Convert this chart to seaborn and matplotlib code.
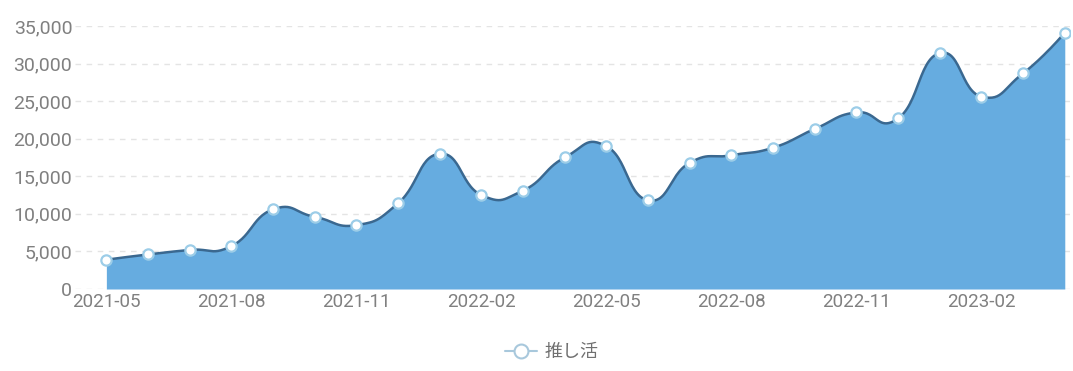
import numpy as np
import pandas as pd
import seaborn as sns
import matplotlib.pyplot as plt
from matplotlib.lines import Line2D

# Monthly values
months = ['2021-05', '2021-06', '2021-07', '2021-08', '2021-09', '2021-10',
          '2021-11', '2021-12', '2022-01', '2022-02', '2022-03', '2022-04',
          '2022-05', '2022-06', '2022-07', '2022-08', '2022-09', '2022-10',
          '2022-11', '2022-12', '2023-01', '2023-02', '2023-03', '2023-04']
values = [3900, 4600, 5200, 5700, 10600, 9600, 8500, 11400, 18000, 12500,
          13100, 17500, 19000, 11800, 16800, 17800, 18800, 21300, 23500,
          22700, 31400, 25600, 28700, 34100]
series_name = '推し活'

df = pd.DataFrame({'month': months, 'value': values})
df['idx'] = np.arange(len(df))


def smooth_curve(x, y, k=0.25, n=30):
    # bezier smoothing through the points (like a "smooth" line chart)
    x = np.asarray(x, float)
    y = np.asarray(y, float)
    px, py = [], []
    for i in range(len(x) - 1):
        p0 = np.array([x[i], y[i]])
        p3 = np.array([x[i + 1], y[i + 1]])
        prev = np.array([x[i - 1], y[i - 1]]) if i > 0 else p0
        nxt = np.array([x[i + 2], y[i + 2]]) if i + 2 < len(x) else p3
        c1 = p0 + k * (p3 - prev) if i > 0 else p0
        c2 = p3 - k * (nxt - p0) if i + 2 < len(x) else p3
        t = np.linspace(0, 1, n)[:, None]
        pts = ((1 - t) ** 3 * p0 + 3 * (1 - t) ** 2 * t * c1
               + 3 * (1 - t) * t ** 2 * c2 + t ** 3 * p3)
        px.extend(pts[:, 0])
        py.extend(pts[:, 1])
    return np.array(px), np.array(py)


sns.set_theme(style='white')
plt.rcParams['font.family'] = ['Roboto', 'Noto Sans CJK JP', 'DejaVu Sans']

fig = plt.figure(figsize=(10.73, 3.71), dpi=100)
ax = fig.add_axes([0.07, 0.221, 0.927, 0.709])

sx, sy = smooth_curve(df['idx'], df['value'])
ax.fill_between(sx, sy, 0, color='#66ace0', lw=0, zorder=2)
ax.plot(sx, sy, color='#3a6890', lw=1.8, zorder=3)
sns.scatterplot(data=df, x='idx', y='value', ax=ax, s=55, color='white',
                edgecolor='#9ccde8', linewidth=1.6, zorder=5, legend=False)

ax.set_xlim(-0.75, 23.12)
ax.set_ylim(0, 35000)
ax.set_yticks(range(0, 35001, 5000))
ax.set_yticklabels([f'{v:,}' for v in range(0, 35001, 5000)])
ax.set_xticks(df['idx'][::3])
ax.set_xticklabels(df['month'][::3])
ax.tick_params(axis='y', labelsize=14, colors='#808080', length=0, pad=2)
ax.tick_params(axis='x', labelsize=13.5, colors='#808080', length=0, pad=3)
ax.yaxis.grid(True, linestyle=(0, (4, 4)), color='#e4e4e4', lw=1, zorder=0)
ax.xaxis.grid(False)
ax.set_xlabel('')
ax.set_ylabel('')
sns.despine(ax=ax, left=True, bottom=True)

handle = Line2D([], [], color='#a8c8dc', lw=1.5, marker='o', markersize=10,
                markerfacecolor='white', markeredgecolor='#a8c8dc',
                markeredgewidth=1.5)
fig.legend([handle], [series_name], loc='center', bbox_to_anchor=(0.514, 0.05),
           frameon=False, fontsize=13, labelcolor='#707070', handlelength=1.8,
           handletextpad=0.4)

fig.savefig('out.png', dpi=100)
